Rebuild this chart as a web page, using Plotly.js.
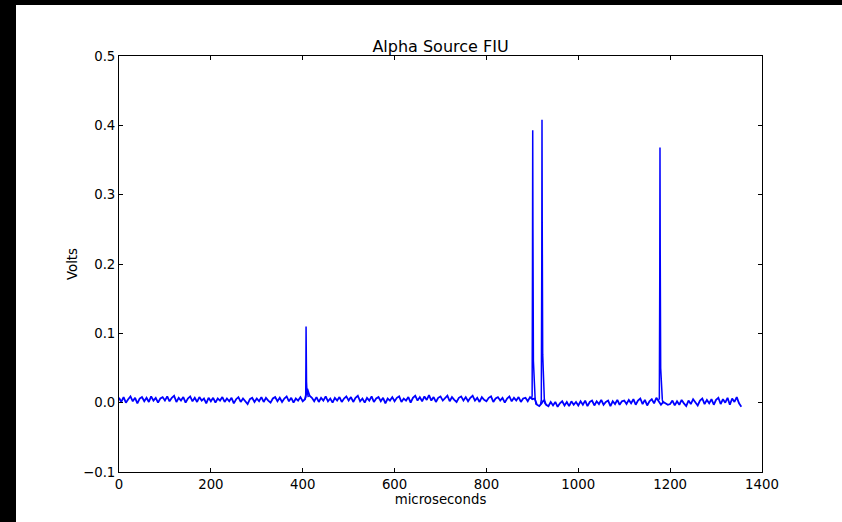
<!DOCTYPE html>
<html>
<head>
<meta charset="utf-8">
<script src="https://cdn.plot.ly/plotly-3.0.1.min.js"></script>
<style>
html,body{margin:0;padding:0;background:#000;width:842px;height:522px;overflow:hidden;}
#chart{position:absolute;left:16px;top:5px;width:826px;height:517px;background:#fff;}
</style>
</head>
<body>
<div id="chart"></div>
<script>
// Baseline signal, sampled every 5 microseconds starting at 0
var baseStart = 0;
var baseStep = 5;
var baseVolts = [
  0.007,0.001,0.008,0.000,0.005,0.009,0.002,0.007,-0.001,0.006,0.008,0.002,0.007,0.001,0.009,0.003,0.007,0.000,0.006,0.008,
  0.003,0.009,0.002,0.007,0.010,0.001,0.007,0.003,0.008,0.000,0.006,0.009,0.002,0.007,0.001,0.008,0.003,0.006,-0.001,0.007,
  0.002,0.007,0.000,0.006,0.003,0.008,0.001,0.006,0.002,0.007,-0.001,0.005,0.008,0.001,0.006,0.002,-0.002,0.005,0.007,0.001,
  0.006,0.002,0.008,0.001,0.007,0.003,0.000,0.006,0.008,0.002,0.007,0.001,0.006,0.009,0.002,0.007,0.000,0.006,0.003,0.008,
  0.002,0.005,0.020,0.010,0.007,0.002,0.008,0.001,0.007,0.003,0.009,0.002,0.006,0.000,0.007,0.003,0.008,0.001,0.006,0.009,
  0.003,0.008,0.001,0.007,0.010,0.002,0.006,0.000,0.007,0.003,0.009,0.001,0.006,0.008,0.002,0.007,-0.001,0.006,0.003,0.008,
  0.002,0.007,0.009,0.001,0.006,0.003,0.008,0.000,0.007,0.010,0.003,0.008,0.002,0.009,0.004,0.011,0.003,0.008,0.001,0.007,
  0.009,0.003,0.007,0.010,0.002,0.008,0.004,0.001,0.007,0.009,0.003,0.008,0.002,0.007,0.010,0.003,0.007,0.001,0.008,0.004,
  0.002,0.007,0.009,0.001,0.006,0.008,0.003,0.007,0.000,0.006,0.009,0.002,0.007,0.003,0.008,0.001,0.006,0.007,0.002,0.008,
  0.005,0.006,-0.003,-0.005,-0.001,0.004,-0.003,-0.005,0.001,-0.004,0.001,-0.006,-0.001,0.002,-0.004,0.001,-0.005,0.002,-0.003,0.001,
  -0.004,0.002,-0.003,0.003,-0.005,0.001,0.003,-0.004,0.002,-0.002,0.004,-0.003,0.001,0.003,-0.005,0.002,-0.002,0.004,-0.003,0.002,
  0.003,-0.002,0.004,-0.001,0.005,-0.003,0.003,0.006,-0.002,0.004,-0.004,0.002,0.005,-0.001,0.007,0.002,-0.003,0.001,-0.001,-0.003,
  -0.002,0.003,-0.004,0.002,-0.003,0.004,-0.001,-0.005,0.003,-0.002,0.005,0.000,-0.004,0.003,0.006,-0.002,0.004,-0.001,0.005,-0.003,
  0.004,0.007,-0.002,0.005,0.000,0.007,-0.003,0.006,0.001,0.008,-0.001,-0.006
];

// Pulses (microseconds, volts)
var pulse1Time  = [405, 406.5, 407, 407.3, 407.7, 408.3, 409, 410, 412];
var pulse1Volts = [0.005, 0.008, 0.06, 0.110, 0.05, 0.03, 0.02, 0.014, 0.008];
var pulse2Time  = [898, 899.5, 900.3, 900.8, 901.3, 902.3, 904, 906, 908];
var pulse2Volts = [0.005, 0.010, 0.20, 0.393, 0.25, 0.06, 0.02, 0.006, -0.003];
var pulse3Time  = [918, 919.5, 920.5, 921, 921.5, 922.5, 924, 926, 928];
var pulse3Volts = [-0.002, 0.004, 0.20, 0.408, 0.26, 0.07, 0.02, 0.006, -0.002];
var pulse4Time  = [1175, 1176.5, 1177.4, 1177.9, 1178.4, 1179.4, 1181, 1183, 1185];
var pulse4Volts = [0.004, 0.006, 0.18, 0.368, 0.22, 0.05, 0.015, 0.004, -0.001];

var xTickVals = [0, 200, 400, 600, 800, 1000, 1200, 1400];
var yTickVals = [-0.1, 0.0, 0.1, 0.2, 0.3, 0.4, 0.5];

var baseLine = {color: '#0000ff', width: 1.8};
var pulseLine = {color: '#0000ff', width: 1.5};
var traces = [
  {x0: baseStart, dx: baseStep, y: baseVolts, type: 'scatter', mode: 'lines', line: baseLine},
  {x: pulse1Time, y: pulse1Volts, type: 'scatter', mode: 'lines', line: pulseLine},
  {x: pulse2Time, y: pulse2Volts, type: 'scatter', mode: 'lines', line: pulseLine},
  {x: pulse3Time, y: pulse3Volts, type: 'scatter', mode: 'lines', line: pulseLine},
  {x: pulse4Time, y: pulse4Volts, type: 'scatter', mode: 'lines', line: pulseLine}
];

var fam = "'DejaVu Sans', sans-serif";
var font = {family: fam, size: 13.3, color: '#000'};
var layout = {
  width: 826, height: 517,
  paper_bgcolor: '#fff', plot_bgcolor: '#fff',
  showlegend: false,
  font: font,
  margin: {l: 103, r: 80, t: 51, b: 50, pad: 0},
  title: {text: 'Alpha Source FIU', font: {family: fam, size: 16, color: '#000'},
          x: 0.5, xref: 'paper', y: 1, yref: 'paper', yanchor: 'bottom', pad: {b: 4}},
  xaxis: {
    range: [0, 1400], tickvals: xTickVals, ticks: 'inside', ticklen: 4, tickcolor: '#000',
    showline: true, linecolor: '#000', linewidth: 1, mirror: 'allticks',
    showgrid: false, zeroline: false, automargin: false,
    title: {text: 'microseconds', font: font, standoff: 1}
  },
  yaxis: {
    range: [-0.1, 0.5], tickvals: yTickVals, tickformat: '.1f', ticks: 'inside', ticklen: 4, tickcolor: '#000',
    showline: true, linecolor: '#000', linewidth: 1, mirror: 'allticks',
    showgrid: false, zeroline: false, automargin: false,
    title: {text: 'Volts', font: font, standoff: 2}
  }
};
Plotly.newPlot('chart', traces, layout, {staticPlot: true, displayModeBar: false});
</script>
</body>
</html>
